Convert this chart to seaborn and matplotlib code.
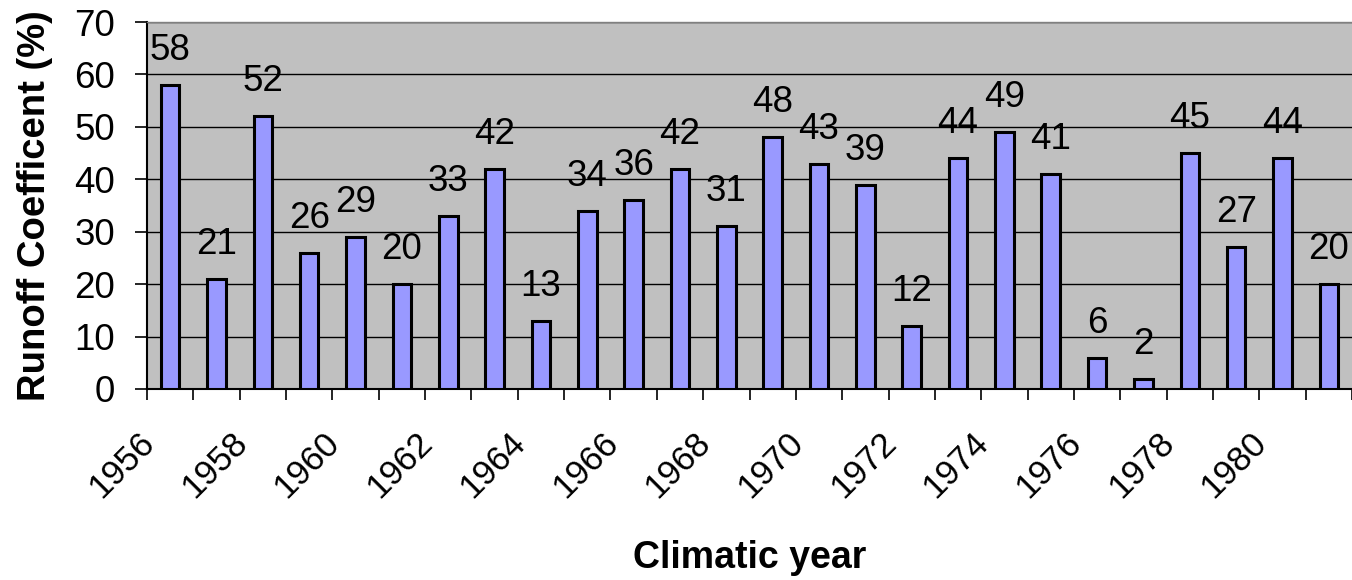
import matplotlib
matplotlib.use("Agg")
import matplotlib.pyplot as plt
from matplotlib.ticker import FixedLocator, MultipleLocator
import seaborn as sns
import pandas as pd

years = list(range(1956, 1982))
runoff = [58, 21, 52, 26, 29, 20, 33, 42, 13, 34, 36, 42, 31, 48, 43, 39,
          12, 44, 49, 41, 6, 2, 45, 27, 44, 20]
tick_years = [y for y in years if y % 2 == 0]

df = pd.DataFrame({"year": [str(y) for y in years], "runoff": runoff})

sns.set_theme(style="white")
plt.rcParams["font.family"] = ["Liberation Sans", "DejaVu Sans"]
plt.rcParams["text.color"] = "black"
plt.rcParams["axes.labelcolor"] = "black"
plt.rcParams["xtick.color"] = "black"
plt.rcParams["ytick.color"] = "black"

fig = plt.figure(figsize=(13.52, 5.80), dpi=100)
ax = fig.add_axes([147 / 1352, 1 - 389 / 580, 1 - 147 / 1352, (389 - 22) / 580])
ax.set_facecolor("#C0C0C0")

sns.barplot(data=df, x="year", y="runoff", color="#9999FF", saturation=1,
            width=0.4, edgecolor="black", linewidth=2.2, ax=ax, zorder=3)

# value labels above each bar
for i, v in enumerate(runoff):
    ax.annotate(str(v), xy=(i, v), xytext=(0, 18), textcoords="offset points",
                ha="center", va="baseline", fontsize=26.5, color="black",
                zorder=4)

ax.set_ylim(0, 70)
ax.set_xlim(-0.5, len(years) - 0.5)
ax.yaxis.set_major_locator(MultipleLocator(10))
ax.grid(axis="y", color="black", linewidth=1.0, zorder=0)
ax.set_axisbelow(True)

# rotated year labels sit just left of their category centre;
# tick marks go at the category boundaries
label_nudge = 0.45
ax.xaxis.set_major_locator(
    FixedLocator([years.index(y) - label_nudge for y in tick_years]))
ax.set_xticklabels([str(y) for y in tick_years], rotation=45, ha="right",
                   va="center", rotation_mode="anchor", fontsize=25)
ax.xaxis.set_minor_locator(FixedLocator([i - 0.5 for i in range(len(years) + 1)]))
ax.tick_params(axis="x", which="major", length=0, pad=35)
ax.tick_params(axis="x", which="minor", length=8, width=1.2, color="black",
               direction="out", bottom=True)
ax.tick_params(axis="y", which="major", length=9, width=1.2, color="black",
               direction="out", left=True, labelsize=26.5, pad=14)

for side in ("left", "bottom"):
    ax.spines[side].set_color("black")
    ax.spines[side].set_linewidth(1.5)
ax.spines["top"].set_color("#808080")
ax.spines["top"].set_linewidth(1.0)
ax.spines["right"].set_visible(False)

ax.set_xlabel("Climatic year", fontsize=27, fontweight="bold")
ax.xaxis.set_label_coords((750 - 147) / 1205, (389 - 540) / 367)
ax.set_ylabel("Runoff Coefficent (%)", fontsize=27.5, fontweight="bold",
              labelpad=15)

fig.savefig("out.png", dpi=100)
